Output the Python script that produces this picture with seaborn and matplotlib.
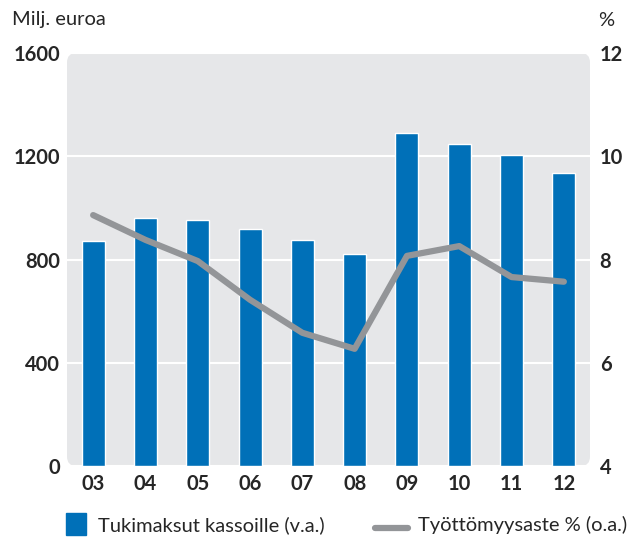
"""
Tukimaksut kassoille ja työttömyysaste 2003-2012.
"""

import pandas as pd
import matplotlib.pyplot as plt
import seaborn as sns
from matplotlib.patches import FancyBboxPatch, Rectangle
from matplotlib.lines import Line2D

years = ['03', '04', '05', '06', '07', '08', '09', '10', '11', '12']
payments = [872, 961, 953, 918, 876, 822, 1290, 1248, 1205, 1136]
unemployment = [8.86, 8.38, 7.97, 7.22, 6.58, 6.27, 8.07, 8.26, 7.66, 7.57]

BLUE = '#0070b8'
GREY = '#939598'
BG = '#e6e7e9'

df = pd.DataFrame({'year': years, 'payments': payments,
                   'unemployment': unemployment, 'pos': range(len(years))})

sns.set_style('white')
plt.rcParams['font.family'] = ['Lato', 'DejaVu Sans']

W, H = 629, 537
fig = plt.figure(figsize=(W / 100, H / 100), dpi=100)
ax = fig.add_axes([67 / W, 1 - 466 / H, 523 / W, 413 / H])
ax.patch.set_visible(False)

# rounded background
bg = FancyBboxPatch((0, 0), 1, 1, boxstyle='round,pad=0,rounding_size=0.018',
                    mutation_aspect=523 / 413, transform=ax.transAxes,
                    facecolor=BG, edgecolor='none', zorder=0, clip_on=False)
ax.add_patch(bg)

sns.barplot(data=df, x='year', y='payments', color=BLUE, width=0.44,
            saturation=1, ax=ax, zorder=3)
ax.set_ylim(0, 1600)
ax.set_xlim(-0.5, len(years) - 0.5)
ax.set_yticks([0, 400, 800, 1200, 1600])
ax.yaxis.grid(True, color='white', linewidth=1.5, zorder=1)
ax.set_axisbelow(True)
for s in ax.spines.values():
    s.set_visible(False)
ax.set_xlabel('')
ax.set_ylabel('')
ax.tick_params(axis='y', length=0, pad=5, labelsize=14.5)
for lbl in ax.get_yticklabels():
    lbl.set_fontweight('bold')
ax.tick_params(axis='x', which='major', length=0, pad=6, labelsize=14.5)
for lbl in ax.get_xticklabels():
    lbl.set_fontweight('bold')
ax.set_xticks([i + 0.5 for i in range(len(years) - 1)], minor=True)
ax.tick_params(axis='x', which='minor', length=7, width=1, color='#b0b0b0',
               direction='out')

ax2 = ax.twinx()
sns.lineplot(data=df, x='pos', y='unemployment', color=GREY, linewidth=4.5,
             ax=ax2, solid_capstyle='round', solid_joinstyle='round', zorder=4)
ax2.set_ylim(4, 12)
ax2.set_yticks([4, 6, 8, 10, 12])
ax2.set_xlim(-0.5, len(years) - 0.5)
for s in ax2.spines.values():
    s.set_visible(False)
ax2.set_ylabel('')
ax2.set_xlabel('')
ax2.tick_params(axis='y', length=0, pad=7, labelsize=14.5)
for lbl in ax2.get_yticklabels():
    lbl.set_fontweight('bold')

fig.text(12 / W, 1 - 20 / H, 'Milj. euroa', fontsize=14.5, va='center', ha='left')
fig.text(598 / W, 1 - 20 / H, '%', fontsize=14.5, va='center', ha='left')

# legend
fig.add_artist(Rectangle((66 / W, 1 - 535 / H), 20 / W, 22 / H,
                         transform=fig.transFigure, color=BLUE))
fig.text(98 / W, 1 - 525 / H, 'Tukimaksut kassoille (v.a.)', fontsize=14.5,
         va='center', ha='left')
fig.add_artist(Line2D([375 / W, 408 / W], [1 - 528 / H, 1 - 528 / H],
                      transform=fig.transFigure, color=GREY, linewidth=4.5,
                      solid_capstyle='round'))
fig.text(418 / W, 1 - 525 / H, 'Työttömyysaste % (o.a.)', fontsize=14.5,
         va='center', ha='left')

fig.savefig('out.png', dpi=100)
